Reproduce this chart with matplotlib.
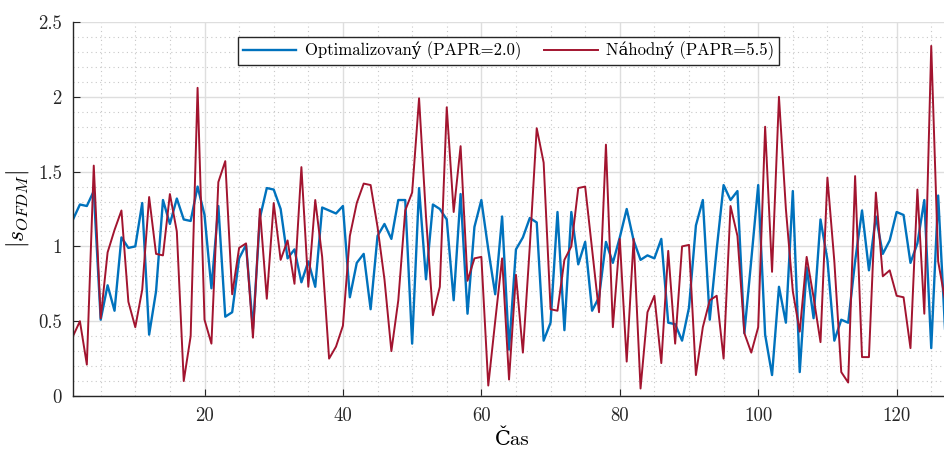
import matplotlib

matplotlib.use("Agg")
import matplotlib.pyplot as plt  # noqa: E402
from matplotlib.ticker import FuncFormatter, MultipleLocator  # noqa: E402

# |s_OFDM| samples (index 1..127 visible)
optimized = [
    1.18, 1.28, 1.27, 1.37, 0.51, 0.74, 0.57, 1.06, 0.99, 1.00,
    1.29, 0.41, 0.70, 1.31, 1.15, 1.32, 1.18, 1.17, 1.40, 1.21,
    0.72, 1.27, 0.53, 0.56, 0.92, 1.01, 0.45, 1.19, 1.39, 1.38,
    1.25, 0.92, 0.98, 0.76, 0.90, 0.73, 1.26, 1.24, 1.22, 1.27,
    0.66, 0.89, 0.95, 0.58, 1.07, 1.15, 1.05, 1.31, 1.31, 0.35,
    1.39, 0.78, 1.28, 1.25, 1.18, 0.64, 1.35, 0.55, 1.13, 1.31,
    0.98, 0.68, 1.20, 0.31, 0.98, 1.06, 1.19, 1.16, 0.37, 0.49,
    1.23, 0.44, 1.23, 0.88, 1.03, 0.57, 0.66, 1.03, 0.89, 1.06,
    1.25, 1.04, 0.91, 0.94, 0.92, 1.05, 0.49, 0.48, 0.37, 0.59,
    1.14, 1.31, 0.51, 0.98, 1.41, 1.31, 1.37, 0.42, 0.91, 1.41,
    0.41, 0.14, 0.73, 0.49, 1.37, 0.16, 0.86, 0.52, 1.18, 0.91,
    0.37, 0.51, 0.49, 0.90, 1.24, 0.84, 1.20, 0.95, 1.04, 1.23,
    1.21, 0.89, 1.02, 1.31, 0.32, 1.34, 0.44,
]
random_sig = [
    0.40, 0.50, 0.21, 1.54, 0.52, 0.96, 1.11, 1.24, 0.63, 0.46,
    0.71, 1.33, 0.95, 0.94, 1.35, 1.10, 0.10, 0.40, 2.06, 0.51,
    0.35, 1.43, 1.57, 0.68, 0.99, 1.02, 0.39, 1.25, 0.65, 1.29,
    0.91, 1.04, 0.75, 1.53, 0.73, 1.31, 0.93, 0.25, 0.33, 0.47,
    1.07, 1.29, 1.42, 1.41, 1.13, 0.78, 0.30, 0.64, 1.24, 1.36,
    1.99, 1.20, 0.54, 0.73, 1.93, 1.23, 1.67, 0.77, 0.92, 0.93,
    0.07, 0.50, 0.92, 0.11, 0.81, 0.29, 1.00, 1.79, 1.56, 0.58,
    0.57, 0.91, 1.00, 1.39, 1.40, 0.98, 0.56, 1.68, 0.46, 1.05,
    0.23, 1.05, 0.05, 0.56, 0.67, 0.22, 0.97, 0.35, 1.00, 1.01,
    0.14, 0.46, 0.64, 0.67, 0.25, 1.27, 1.07, 0.42, 0.29, 0.46,
    1.80, 0.83, 2.00, 1.25, 0.70, 0.43, 0.93, 0.66, 0.36, 1.46,
    0.90, 0.16, 0.09, 1.47, 0.26, 0.26, 1.36, 0.80, 0.84, 0.67,
    0.66, 0.32, 1.38, 0.55, 2.34, 0.90, 0.64,
]
t = list(range(1, len(optimized) + 1))

labels = ["Optimalizovaný (PAPR=2.0)", "Náhodný (PAPR=5.5)"]
x_label = "Čas"
y_label = r"$|s_{OFDM}|$"

plt.rcParams["font.family"] = ["cmr10", "DejaVu Serif"]
plt.rcParams["mathtext.fontset"] = "cm"
plt.rcParams["axes.unicode_minus"] = False
plt.rcParams["font.size"] = 13

fig = plt.figure(figsize=(9.44, 4.5), dpi=100)
# axes run slightly past the right edge, as in the cropped reference
ax = fig.add_axes([73 / 944, 54 / 450, 879 / 944, 374 / 450])

ax.plot(t, optimized, color="#0072BD", linewidth=1.7, label=labels[0])
ax.plot(t, random_sig, color="#A2142F", linewidth=1.4, label=labels[1])

ax.set_xlim(1, 128)
ax.set_ylim(0, 2.5)
ax.xaxis.set_major_locator(MultipleLocator(20))
ax.xaxis.set_minor_locator(MultipleLocator(5))
ax.yaxis.set_major_locator(MultipleLocator(0.5))
ax.yaxis.set_minor_locator(MultipleLocator(0.1))
ax.yaxis.set_major_formatter(FuncFormatter(lambda v, _: f"{v:g}"))

ax.grid(which="major", color="#dedede", linewidth=1.0)
ax.grid(which="minor", color="#c8c8c8", linestyle=(0, (1, 3)), linewidth=0.8)
ax.set_axisbelow(True)

for side in ("top", "right"):
    ax.spines[side].set_visible(False)
for side in ("left", "bottom"):
    ax.spines[side].set_color("#262626")
    ax.spines[side].set_linewidth(1.0)
ax.tick_params(which="both", direction="in", colors="#262626", labelsize=13.5)
ax.tick_params(which="major", length=5, pad=8)
ax.tick_params(which="minor", length=0)

ax.set_xlabel(x_label, fontsize=15, labelpad=3)
ax.set_ylabel(y_label, fontsize=17, labelpad=5)

leg = ax.legend(
    loc="upper center",
    bbox_to_anchor=(0.5 * 871 / 879, 0.97),
    ncol=2,
    fancybox=False,
    framealpha=1.0,
    edgecolor="#262626",
    fontsize=12,
    handlelength=3.2,
    handletextpad=0.5,
    columnspacing=1.4,
    borderpad=0.3,
    borderaxespad=0.2,
)
leg.get_frame().set_linewidth(1.0)

fig.savefig("out.png", dpi=100)
